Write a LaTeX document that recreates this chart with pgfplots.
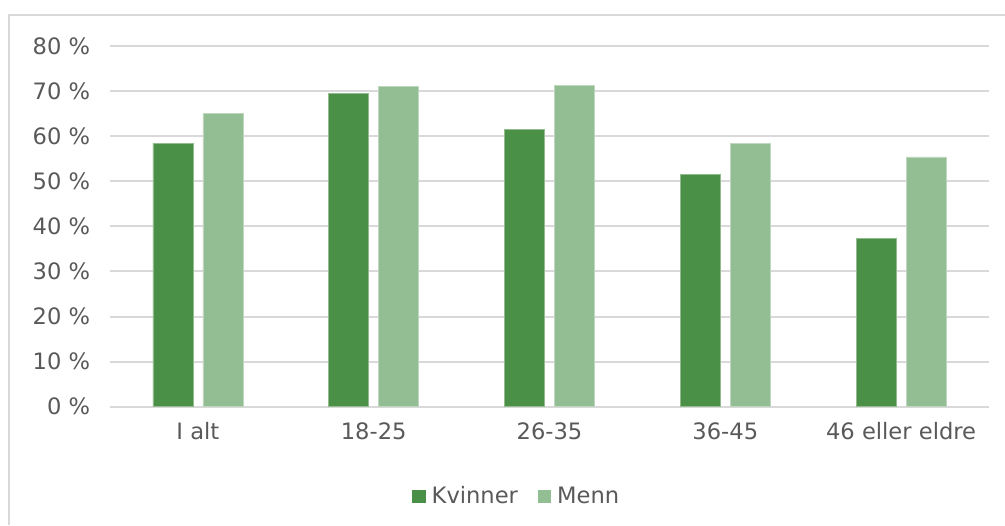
\documentclass[border=0pt]{standalone}
\usepackage{pgfplots}
\pgfplotsset{compat=1.18}
\usepackage{fontspec}
\setmainfont{DejaVu Sans}
\definecolor{kv}{RGB}{74,144,70}
\definecolor{me}{RGB}{147,189,147}
\definecolor{gridc}{RGB}{217,217,217}
\definecolor{txt}{RGB}{89,89,89}
\begin{document}
\fontsize{11.3}{13}\selectfont
\begin{tikzpicture}
\draw[gridc, line width=1pt] (4.5pt,0pt) -- (4.5pt,255pt) -- (502.5pt,255pt);
\begin{axis}[
  at={(55pt,59.15pt)}, anchor=south west,
  scale only axis, width=439.5pt, height=180.35pt,
  ybar=5pt, bar width=20pt,
  xmin=-0.5, xmax=4.5, ymin=0, ymax=80,
  xtick={0,1,2,3,4},
  xticklabels={I alt,18-25,26-35,36-45,46 eller eldre},
  ytick={0,10,...,80},
  yticklabel={\pgfmathprintnumber{\tick}~\%},
  /pgf/number format/assume math mode=true,
  major tick length=0pt, tick style={draw=none},
  xmajorgrids=false, ymajorgrids=true,
  major grid style={draw=gridc, line width=1pt},
  axis x line*=bottom, axis y line*=left,
  x axis line style={draw=gridc, line width=1pt, -},
  y axis line style={draw=none},
  ticklabel style={text=txt, font=\fontsize{11.3}{13}\selectfont},
  yticklabel style={xshift=-6pt},
  xticklabel style={yshift=-4pt},
  legend columns=2,
  legend style={draw=none, fill=none, at={(0.464,-0.25)}, anchor=center,
    font=\fontsize{11.3}{13}\selectfont, text=txt,
    /tikz/every odd column/.append style={column sep=1pt},
    /tikz/every even column/.append style={column sep=8pt}},
  legend image code/.code={\path[#1, draw=none] (0pt,-3.3pt) rectangle (6.6pt,3.3pt);},
]
\addplot[fill=kv, draw=kv!60!white, line width=0.4pt] coordinates {(0,58.4) (1,69.5) (2,61.4) (3,51.5) (4,37.3)};
\addplot[fill=me, draw=me!60!white, line width=0.4pt] coordinates {(0,65.0) (1,71.0) (2,71.3) (3,58.4) (4,55.4)};
\legend{Kvinner,Menn}
\end{axis}
\pgfresetboundingbox
\path[use as bounding box] (0pt,0pt) rectangle (502.5pt,262.5pt);
\end{tikzpicture}
\end{document}
